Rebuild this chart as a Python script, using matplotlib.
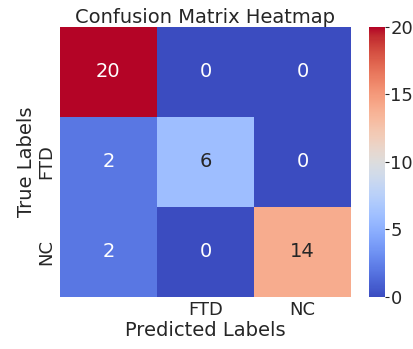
import numpy as np
import matplotlib
matplotlib.use("Agg")
import matplotlib.pyplot as plt
import seaborn as sns

labels = ["", "FTD", "NC"]
conf_matrix = np.array([
    [20, 0, 0],
    [2, 6, 0],
    [2, 0, 14],
])
cbar_ticks = [0, 5, 10, 15, 20]

plt.rcParams["text.color"] = "#262626"
plt.rcParams["axes.labelcolor"] = "#262626"
plt.rcParams["xtick.color"] = "#262626"
plt.rcParams["ytick.color"] = "#262626"

fig = plt.figure(figsize=(4.13, 3.49), dpi=100)
ax = fig.add_axes([0.145, 0.149, 0.705, 0.774])
cax = fig.add_axes([0.893, 0.149, 0.039, 0.774])

sns.heatmap(conf_matrix, annot=True, fmt="d", cmap="coolwarm",
            xticklabels=labels, yticklabels=labels, ax=ax, cbar_ax=cax,
            annot_kws={"size": 14})

ax.set_title("Confusion Matrix Heatmap", fontsize=14, pad=3)
ax.set_xlabel("Predicted Labels", fontsize=14, labelpad=1)
ax.set_ylabel("True Labels", fontsize=14, labelpad=1)
ax.tick_params(axis="both", length=0, labelsize=13, pad=3)
cax.set_yticks(cbar_ticks)
cax.tick_params(labelsize=13, length=3, pad=1)

fig.savefig("out.png", dpi=100)
